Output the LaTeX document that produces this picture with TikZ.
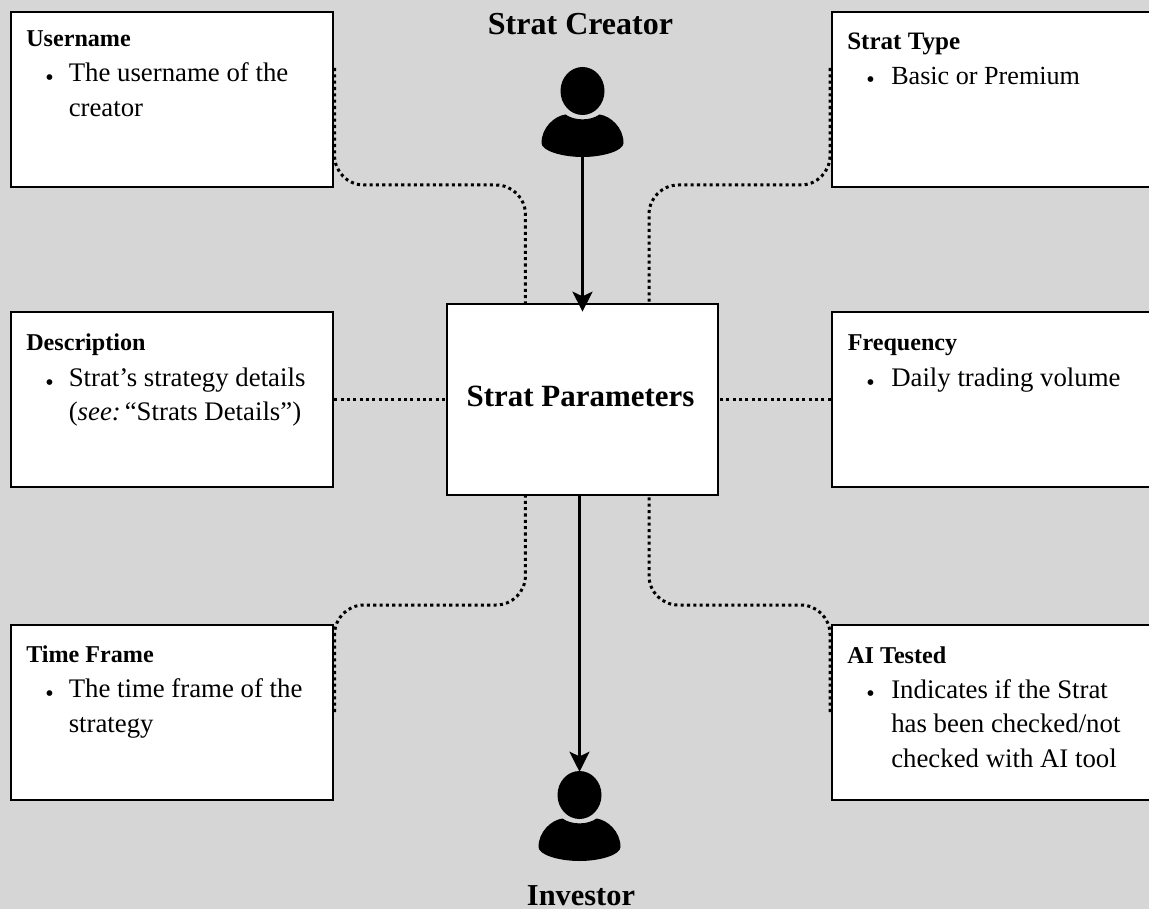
\documentclass[tikz,border=0pt]{standalone}
\usepackage{fontspec}
\setmainfont{Liberation Serif}
\usetikzlibrary{arrows.meta,calc,backgrounds}
\newcommand{\personicon}{%
  \fill (0,-21.5) ellipse [x radius=22, y radius=24];
  \fill (-17,2) .. controls (-28,3.5) and (-41,15) .. (-41,30.5)
    .. controls (-41,38.5) and (-20,44.5) .. (0,44.5)
    .. controls (20,44.5) and (41,38.5) .. (41,30.5)
    .. controls (41,15) and (28,3.5) .. (17,2)
    .. controls (8,8.5) and (-8,8.5) .. (-17,2) -- cycle;
}
\tikzset{
  x=0.75pt, y=-0.75pt,
  infobox/.style={draw=black, fill=white, line width=2pt, minimum width=241.5pt, minimum height=131.25pt, inner sep=0pt},
  centerbox/.style={draw=black, fill=white, line width=2pt, minimum width=203.25pt, minimum height=143.25pt, inner sep=0pt},
  centerlabel/.style={inner sep=0pt, anchor=base, font=\fontsize{23.2pt}{27pt}\selectfont\bfseries},
  personnode/.style={minimum width=61.5pt, minimum height=66.75pt, inner sep=0pt},
  role/.style={inner sep=0pt, anchor=base, font=\fontsize{24pt}{27pt}\selectfont\bfseries},
  head/.style={inner sep=0pt, anchor=base west, font=\fontsize{18.1pt}{26pt}\selectfont\bfseries},
  body/.style={inner sep=0pt, anchor=base west, font=\fontsize{20.1pt}{26.1pt}\selectfont},
  dot/.style={inner sep=0pt, anchor=base west, font=\fontsize{18pt}{20pt}\selectfont},
  dotline/.style={line width=2.25pt, dash pattern=on 2.3pt off 2.45pt},
  flow/.style={line width=2pt, -{Stealth[length=15pt,width=15pt,inset=3.5pt]}},
}
\begin{document}
\begin{tikzpicture}
\useasboundingbox (0,0) rectangle (1149,909);

\node[infobox] (username) at (172,99.5) {};
\node[infobox] (description) at (172,399.5) {};
\node[infobox] (timeframe) at (172,712.5) {};
\node[infobox] (strattype) at (993,99.5) {};
\node[infobox] (frequency) at (993,399.5) {};
\node[infobox] (aitested) at (993,712.5) {};
\node[centerbox] (params) at (582.5,399.5) {};
\node[centerlabel] (paramslabel) at (580.5,406.7) {Strat Parameters};

\node[personnode] (creator) at (582.5,112.5) {};
\begin{scope}[shift={(creator.center)}]\personicon\end{scope}
\node[personnode] (investor) at (579.5,816.5) {};
\begin{scope}[shift={(investor.center)}]\personicon\end{scope}

\node[role] (creatorlabel) at (580.5,34.5) {Strat Creator};
\node[role, font=\fontsize{22.8pt}{27pt}\selectfont\bfseries] (investorlabel) at (581,905) {Investor};

\coordinate (ulstart) at (334.6,68);
\coordinate (urstart) at (830,68);
\coordinate (llstart) at (334.6,712);
\coordinate (lrstart) at (830,712);
\coordinate (nw) at (525.4,304);
\coordinate (ne) at (649,304);
\coordinate (sw) at (525.4,495);
\coordinate (se) at (649,495);
\coordinate (topbus) at (0,185);
\coordinate (botbus) at (0,605);

\begin{scope}[on background layer]
\fill[fill={rgb,255:red,214;green,214;blue,214}] (0,0) rectangle (1149,909);
\draw[dotline, rounded corners=22pt] (ulstart) -- (ulstart |- topbus) -- (nw |- topbus) -- (nw);
\draw[dotline, rounded corners=22pt] (urstart) -- (urstart |- topbus) -- (ne |- topbus) -- (ne);
\draw[dotline, rounded corners=22pt] (llstart) -- (llstart |- botbus) -- (sw |- botbus) -- (sw);
\draw[dotline, rounded corners=22pt] (lrstart) -- (lrstart |- botbus) -- (se |- botbus) -- (se);
\draw[dotline] (description.east) -- (params.west |- description.east);
\draw[dotline] (frequency.west) -- (params.east |- frequency.west);
\end{scope}

\draw[flow] (creator.south) -- ($(params.north)+(0,9)$);
\draw[flow] (params.south -| investor.north) -- (investor.north);

\node[head] (h1) at (26,46.7) {Username};
\node[dot] (d1) at (45,85.5) {•};
\node[body] (b1) at (68.5,81.7) {\vtop{\hbox{The username of the}\hbox{creator}}};

\node[head] (h2) at (26,350.7) {Description};
\node[dot] (d2) at (45,390) {•};
\node[body] (b2) at (68.5,386) {\vtop{\hbox{Strat’s strategy details}\hbox{(\textit{see:}\hspace{-3.7pt} “Strats Details”)}}};

\node[head] (h3) at (26,662.7) {Time Frame};
\node[dot] (d3) at (45,701.5) {•};
\node[body] (b3) at (68.5,697.7) {\vtop{\hbox{The time frame of the}\hbox{strategy}}};

\node[head, font=\fontsize{18.8pt}{26pt}\selectfont\bfseries] (h4) at (847,50) {Strat Type};
\node[dot] (d4) at (866,88) {•};
\node[body, font=\fontsize{19.6pt}{26.1pt}\selectfont] (b4) at (891,84.3) {Basic or Premium};

\node[head] (h5) at (847.5,350.7) {Frequency};
\node[dot] (d5) at (866,390) {•};
\node[body] (b5) at (891,386) {Daily trading volume};

\node[head] (h6) at (847,663) {AI Tested};
\node[dot] (d6) at (866,701.7) {•};
\node[body] (b6) at (891,698) {\vtop{\hbox{Indicates if the Strat}\hbox{has been checked/not}\hbox{checked with AI tool}}};
\end{tikzpicture}
\end{document}
